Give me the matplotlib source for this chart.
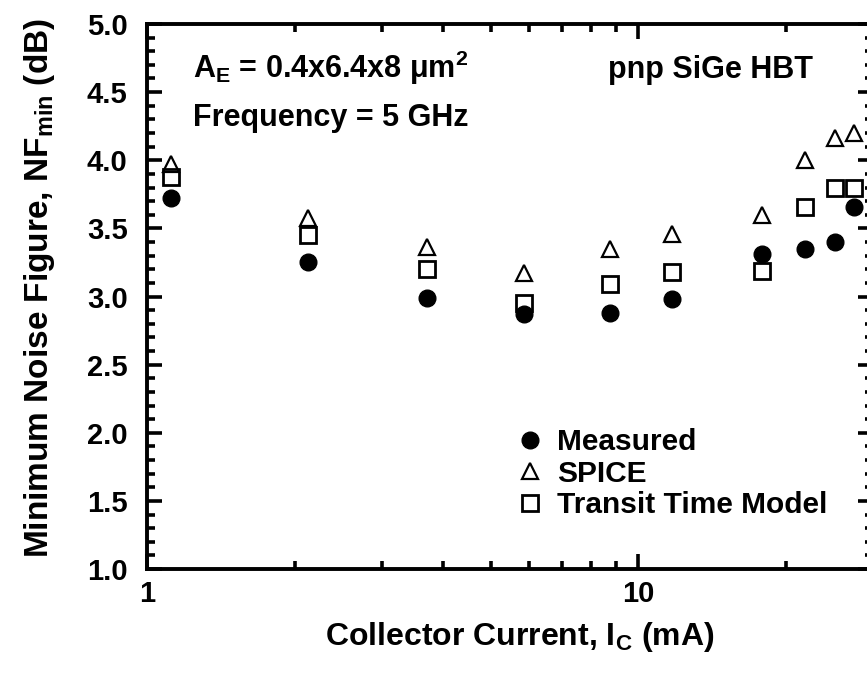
import matplotlib
matplotlib.use("Agg")
import matplotlib.pyplot as plt
from matplotlib.ticker import LogLocator, FixedLocator, MultipleLocator, NullFormatter

plt.rcParams['font.family'] = ['Liberation Sans', 'DejaVu Sans']
plt.rcParams['font.weight'] = 'bold'
plt.rcParams['mathtext.fontset'] = 'custom'
plt.rcParams['mathtext.rm'] = 'Liberation Sans:bold'
plt.rcParams['mathtext.bf'] = 'Liberation Sans:bold'
plt.rcParams['mathtext.it'] = 'Liberation Sans:bold'

current_mA = [1.12, 2.13, 3.71, 5.86, 8.74, 11.7, 17.8, 21.8, 25.1, 27.4]
measured = [3.72, 3.255, 2.99, 2.87, 2.88, 2.98, 3.31, 3.35, 3.40, 3.66]
spice = [3.97, 3.575, 3.36, 3.17, 3.35, 3.46, 3.60, 4.00, 4.16, 4.20]
transit = [3.88, 3.45, 3.20, 2.95, 3.09, 3.18, 3.19, 3.66, 3.80, 3.80]

fig = plt.figure(figsize=(8.67, 6.73), dpi=100)
ax = fig.add_axes([147/867, 1-569/673, (873-147)/867, (569-24)/673])

ax.plot(current_mA, measured, 'o', ms=12, color='black', mec='black', label='Measured', zorder=3)
ax.plot(current_mA, spice, '^', ms=12, mfc='none', mec='black', mew=1.6, label='SPICE', zorder=3)
ax.plot(current_mA, transit, 's', ms=11.5, mfc='none', mec='black', mew=2.0, label='Transit Time Model', zorder=3)

ax.set_xscale('log')
ax.set_xlim(1, 30)
ax.set_ylim(1.0, 5.0)
ax.xaxis.set_major_locator(FixedLocator([1, 10]))
ax.xaxis.set_minor_locator(LogLocator(base=10, subs=range(2, 10)))
ax.xaxis.set_minor_formatter(NullFormatter())
ax.set_xticklabels(['1', '10'])
ax.yaxis.set_major_locator(MultipleLocator(0.5))
ax.yaxis.set_minor_locator(MultipleLocator(0.1))
ax.yaxis.set_major_formatter(matplotlib.ticker.FormatStrFormatter('%.1f'))

for s in ax.spines.values():
    s.set_linewidth(2.8)
ax.tick_params(which='both', direction='in', top=True, right=True, width=2.6)
ax.tick_params(which='major', length=11)
ax.tick_params(which='minor', length=5.5)
ax.tick_params(axis='y', which='both', pad=14, labelsize=21)
ax.tick_params(axis='x', which='both', pad=8, labelsize=21)
for lab in ax.get_xticklabels() + ax.get_yticklabels():
    lab.set_fontweight('bold')

ax.set_xlabel(r'Collector Current, I$_\mathrm{C}$ (mA)', fontsize=23, fontweight='bold')
ax.set_ylabel(r'Minimum Noise Figure, NF$_\mathrm{min}$ (dB)', fontsize=24, fontweight='bold')
ax.xaxis.set_label_coords(0.514, -0.094)
ax.yaxis.set_label_coords(-0.124, 0.515)

fig.text(193/867, 1-78/673, r'A$_\mathrm{E}$ = 0.4x6.4x8 $\mathrm{\mu}$m$^\mathrm{2}$', fontsize=22,
         fontweight='bold', ha='left', va='baseline')
fig.text(193/867, 1-126/673, 'Frequency = 5 GHz', fontsize=22, fontweight='bold', ha='left', va='baseline')
fig.text(813/867, 1-78/673, 'pnp SiGe HBT', fontsize=22, fontweight='bold', ha='right', va='baseline')

leg = ax.legend(loc='upper left', bbox_to_anchor=(515/867, 1-428/673), bbox_transform=fig.transFigure,
                frameon=False, fontsize=21.5, handlelength=1.0, handletextpad=0.4, labelspacing=0.12,
                borderpad=0, borderaxespad=0, numpoints=1)
for t in leg.get_texts():
    t.set_fontweight('bold')

fig.savefig('out.png', dpi=100)
